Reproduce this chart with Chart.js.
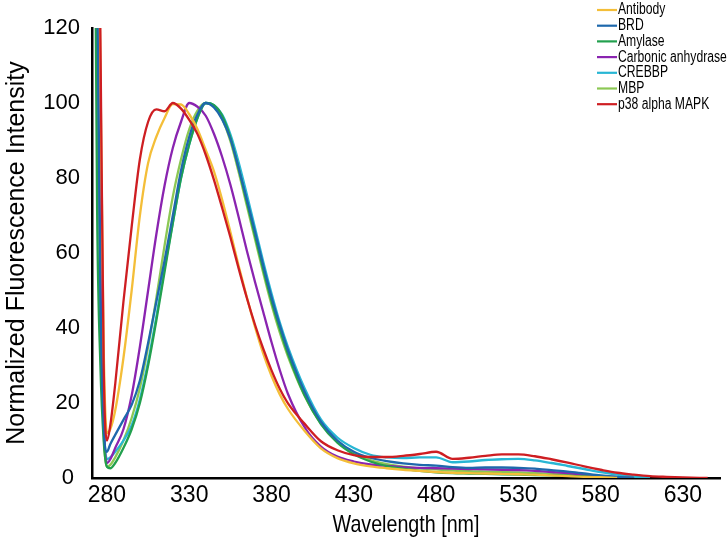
<!DOCTYPE html>
<html>
<head>
<meta charset="utf-8">
<script src="https://cdn.jsdelivr.net/npm/chart.js@4.4.0/dist/chart.umd.min.js"></script>
<style>
html, body { margin: 0; padding: 0; background: #fff; }
#wrap { width: 728px; height: 540px; }
</style>
</head>
<body>
<div id="wrap"><canvas id="myChart" width="728" height="540"></canvas></div>
<script>
// wavelength grid (nm) shared by every series
const wavelengths = [272, 274, 276, 278, 280, 282, 285, 290, 295, 300, 305, 310, 315, 320, 325, 330, 335, 340, 345, 350, 355, 360, 365, 370, 375, 380, 385, 390, 400, 410, 420, 430, 440, 450, 460, 470, 480, 490, 500, 510, 520, 530, 540, 550, 560, 570, 580, 590, 600, 610, 620, 630, 645];

const antibody = [null, 185, 110, 35, 12, 13, 18, 32, 50, 70, 84, 91, 96, 99.7, 99.6, 97, 93, 87.5, 81.8, 74.2, 65.6, 56.6, 48.2, 40.2, 33.1, 27.2, 22.3, 18.4, 12.6, 7.9, 5.3, 3.9, 3.1, 2.6, 2.2, 1.9, 1.6, 1.4, 1.3, 1.2, 1.1, 1, 0.9, 0.7, 0.5, 0.3, 0.2, 0, null, null, null, null, null];
const brd = [null, 140, 50, 14, 7, 9, 11.5, 15.5, 19.5, 26, 36, 47, 58, 70, 82, 91, 97, 100, 98.8, 95.6, 90.4, 82.6, 74.2, 65.6, 56.6, 48.2, 40.8, 34.1, 23.1, 15, 10, 7, 5.4, 4.5, 3.9, 3.5, 3.3, 2.9, 2.7, 2.8, 2.8, 2.7, 2.5, 2.1, 1.7, 1.2, 0.7, 0.3, 0, null, null, null, null];
const amylase = [200, 72, 30, 10, 3, 2.6, 4, 8, 13, 20, 30, 42, 55, 68, 80, 89, 96, 100, 99.4, 96.6, 90.8, 82.6, 73.6, 64.6, 55.6, 47.2, 39.8, 33.1, 22.1, 14.4, 9.4, 6.3, 4.4, 3.2, 2.5, 1.9, 1.5, 1.3, 1.2, 1.1, 1, 0.9, 0.8, 0.7, 0.6, 0.4, 0.3, 0.1, 0, null, null, null, null];
const carbonic = [null, 150, 60, 15, 4, 5, 8, 13, 22, 35, 50, 65, 78, 88, 95, 100, 99, 96.6, 91.8, 85.6, 78.2, 69.6, 60.6, 52.2, 44.2, 36.2, 28.8, 22.4, 13.6, 8.4, 5.7, 4.4, 3.6, 3.2, 2.9, 2.7, 2.6, 2.5, 2.4, 2.3, 2.2, 2.1, 1.9, 1.6, 1.3, 0.9, 0.5, 0.2, 0, null, null, null, null];
const crebbp = [null, 140, 50, 15, 5, 5.5, 7, 10, 14, 21, 31, 43, 56, 68, 80, 89, 96, 100, 99.4, 96.9, 91.6, 84.2, 75.6, 66.6, 57.6, 49.2, 41.5, 34.9, 24, 15.6, 10.8, 8, 6.2, 5.5, 5.3, 5.5, 5.5, 4.2, 4.4, 4.8, 5, 5.1, 4.7, 4, 3.2, 2.4, 1.6, 0.9, 0.4, 0, null, null, null];
const mbp = [null, 110, 45, 12, 3, 3.5, 5.5, 10, 16, 24, 35, 48, 62, 75, 85, 93, 98, 100, 99.1, 95.8, 89.8, 81.6, 72.6, 63.6, 54.6, 46.2, 38.8, 32.4, 22, 14.5, 9.8, 6.8, 4.8, 3.7, 3, 2.6, 2.3, 2, 1.8, 1.7, 1.6, 1.5, 1.3, 1.1, 0.9, 0.6, 0.4, 0.1, 0, null, null, null, null];
const p38 = [null, 190, 118, 30, 10, 14, 25, 47, 67, 85, 95, 98.3, 97.8, 100, 98.5, 95.5, 91.7, 86.2, 79.5, 72, 64.2, 55.9, 48, 40.8, 34.4, 28.7, 23.8, 19.9, 14.5, 9.8, 7.4, 6.1, 5.6, 5.6, 5.9, 6.4, 7, 5.1, 5.4, 5.9, 6.3, 6.3, 5.8, 5, 4.1, 3.1, 2.2, 1.4, 0.9, 0.5, 0.3, 0.15, 0];

const seriesNames = ["Antibody", "BRD", "Amylase", "Carbonic anhydrase", "CREBBP", "MBP", "p38 alpha MAPK"];
const seriesValues = [antibody, brd, amylase, carbonic, crebbp, mbp, p38];
const seriesColors = ["rgb(244,190,56)", "rgb(30,104,172)", "rgb(34,160,78)", "rgb(138,36,176)", "rgb(40,182,212)", "rgb(140,200,84)", "rgb(206,30,34)"];

const xTicks = [280, 330, 380, 430, 480, 530, 580, 630];
const xTitle = 'Wavelength [nm]';

const FONT = "Arial, 'Liberation Sans', sans-serif";

const datasets = seriesNames.map(function (name, i) {
  return {
    label: name,
    data: wavelengths.map(function (w, j) { return { x: w, y: seriesValues[i][j] }; }),
    borderColor: seriesColors[i],
    backgroundColor: seriesColors[i],
    borderWidth: 2.3,
    pointRadius: 0,
    fill: false,
    cubicInterpolationMode: 'monotone',
    order: name === "p38 alpha MAPK" ? 0 : 1
  };
});

// draw text squeezed sideways, the original uses a narrow face
function narrowText(ctx, text, x, y, size, squeeze, align) {
  ctx.save();
  ctx.translate(x, y);
  ctx.scale(squeeze, 1);
  ctx.font = size + "px " + FONT;
  ctx.textBaseline = 'middle';
  ctx.textAlign = align;
  ctx.fillStyle = '#000';
  ctx.fillText(text, 0, 0);
  ctx.restore();
}

// legend sits inside the plot, top right; x title under the axis
const extras = {
  id: 'extras',
  afterDraw: function (chart) {
    const ctx = chart.ctx;
    seriesNames.forEach(function (name, i) {
      const y = 10 + i * 15.7;
      ctx.save();
      ctx.strokeStyle = seriesColors[i];
      ctx.lineWidth = 2.2;
      ctx.beginPath();
      ctx.moveTo(597, y);
      ctx.lineTo(617, y);
      ctx.stroke();
      ctx.restore();
      narrowText(ctx, name, 618, y, 16, 0.76, 'left');
    });
    const area = chart.chartArea;
    narrowText(ctx, xTitle, (area.left + area.right) / 2, 525, 24, 0.82, 'center');
  }
};

const config = {
  type: 'line',
  data: { datasets: datasets },
  options: {
    responsive: false,
    animation: false,
    devicePixelRatio: 1,
    layout: { padding: { top: 28, right: 8, left: 0, bottom: 0 } },
    plugins: {
      legend: { display: false },
      tooltip: { enabled: false }
    },
    scales: {
      x: {
        type: 'linear',
        min: 270.9,
        max: 652.5,
        afterBuildTicks: function (scale) {
          scale.ticks = xTicks.map(function (v) { return { value: v }; });
        },
        afterFit: function (scale) { scale.height = 62; },
        grid: { display: false, drawTicks: false },
        border: { color: '#000', width: 2.5 },
        ticks: { color: '#000', font: { family: FONT, size: 23 }, padding: 4, maxRotation: 0, autoSkip: false },
        title: { display: false }
      },
      y: {
        min: 0,
        max: 120,
        afterFit: function (scale) { scale.width = 92; },
        grid: { display: false, drawTicks: false },
        border: { color: '#000', width: 2.5 },
        ticks: {
          stepSize: 20,
          color: '#000',
          font: { family: FONT, size: 22 },
          padding: 12,
          callback: function (v) { return v === 0 ? '0 ' : String(v); }
        },
        title: { display: true, text: 'Normalized Fluorescence Intensity', color: '#000', font: { family: FONT, size: 25 }, padding: { top: 2, bottom: 0 } }
      }
    }
  },
  plugins: [extras]
};

const myChart = new Chart(document.getElementById('myChart'), config);
</script>
</body>
</html>
